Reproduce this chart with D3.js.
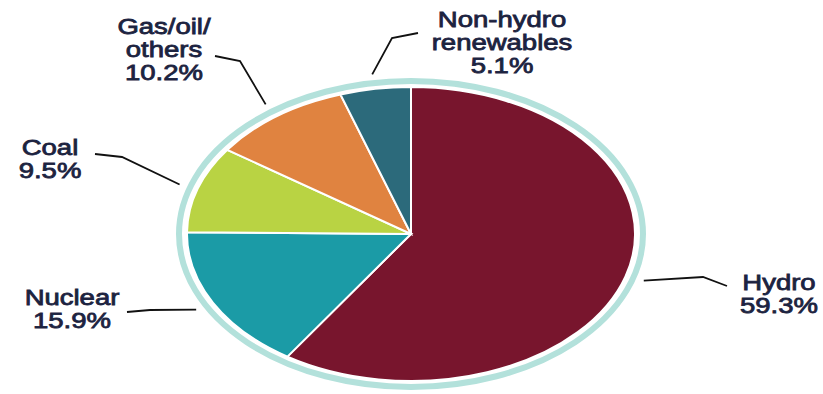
<!DOCTYPE html>
<html>
<head>
<meta charset="utf-8">
<script src="https://cdn.jsdelivr.net/npm/d3@7"></script>
<style>
  body { margin: 0; background: #fff; }
  svg { display: block; }
</style>
</head>
<body>
<div id="chart"></div>
<script>
// electricity generation mix (share, %)
const sources = ["Hydro", "Nuclear", "Coal", "Gas/oil/others", "Non-hydro renewables"];
const shares = [59.3, 15.9, 9.5, 10.2, 5.1];
const labelLines = [["Hydro"], ["Nuclear"], ["Coal"], ["Gas/oil/", "others"], ["Non-hydro", "renewables"]];
const colors = ["#78152d", "#1b9ba6", "#b9d343", "#e08340", "#2c6a7b"];

// label placement (layout only)
const labelPos = [
    { x: 779, y: 290, end: [727, 286], elbow: [703, 277] },
    { x: 72, y: 305, end: [127, 312], elbow: [150, 310] },
    { x: 50, y: 155, end: [95, 154], elbow: [122, 157] },
    { x: 164, y: 34, end: [215, 56], elbow: [240, 61] },
    { x: 502, y: 27, end: [418, 33], elbow: [392, 38] }
];

const width = 823;
const height = 394;
const cx = 411, cy = 234;
const rx = 224, ry = 147;
const R = 100; // unit radius, squashed into an ellipse by the transform

const svg = d3.select("#chart")
    .append("svg")
    .attr("width", width)
    .attr("height", height);

// outer ring
svg.append("ellipse")
    .attr("cx", cx)
    .attr("cy", cy)
    .attr("rx", 232)
    .attr("ry", 153)
    .attr("fill", "none")
    .attr("stroke", "#b3e1db")
    .attr("stroke-width", 6);

const pie = d3.pie().sort(null).value(d => d);
const arcs = pie(shares);
const arc = d3.arc().innerRadius(0).outerRadius(R);

const g = svg.append("g")
    .attr("transform", `translate(${cx},${cy}) scale(${rx / R},${ry / R})`);

g.selectAll("path")
    .data(arcs)
    .join("path")
    .attr("d", arc)
    .attr("fill", (d, i) => colors[i])
    .attr("stroke", "#fff")
    .attr("stroke-width", 2)
    .attr("vector-effect", "non-scaling-stroke");

// leader lines: start just outside the ring at the slice's mid angle
const f = 1.03;
function edgePoint(d) {
    const a = (d.startAngle + d.endAngle) / 2;
    return [cx + Math.sin(a) * 236 * f, cy - Math.cos(a) * 157 * f];
}

svg.append("g")
    .selectAll("path")
    .data(arcs)
    .join("path")
    .attr("d", (d, i) => d3.line()([labelPos[i].end, labelPos[i].elbow, edgePoint(d)]))
    .attr("fill", "none")
    .attr("stroke", "#111")
    .attr("stroke-width", 1.8);

// labels
const lineH = 23;
const labels = svg.append("g")
    .selectAll("g")
    .data(arcs)
    .join("g")
    .attr("transform", (d, i) => `translate(${labelPos[i].x},${labelPos[i].y}) scale(1.25,1)`);

labels.each(function (d, i) {
    const t = d3.select(this).append("text")
        .attr("text-anchor", "middle")
        .attr("font-family", "'Liberation Sans', Arial, sans-serif")
        .attr("font-size", 22)
        .attr("fill", "#1c2340")
        .attr("stroke", "#1c2340")
        .attr("stroke-width", 0.8);
    const lines = labelLines[i].concat([shares[i].toFixed(1) + "%"]);
    lines.forEach((s, k) => {
        t.append("tspan").attr("x", 0).attr("y", k * lineH).text(s);
    });
});
</script>
</body>
</html>
